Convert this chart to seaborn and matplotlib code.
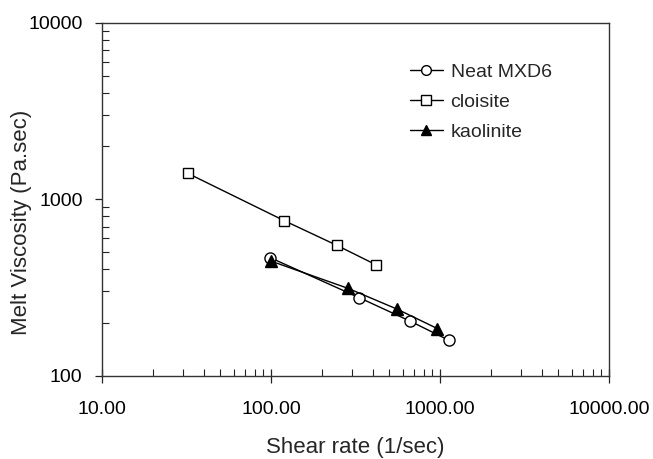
import numpy as np
import pandas as pd
import matplotlib
matplotlib.use("Agg")
import matplotlib.pyplot as plt
from matplotlib.ticker import LogLocator, FixedLocator, FixedFormatter, NullFormatter
import seaborn as sns

# Data
neat_x = [98.6, 332, 664, 1125]
neat_y = [467, 277, 204, 159]
cloisite_x = [32.1, 120, 246, 416]
cloisite_y = [1403, 755, 547, 426]
kaolinite_x = [100, 287, 559, 964]
kaolinite_y = [446, 312, 238, 185]

series_names = ["Neat MXD6", "cloisite", "kaolinite"]
x_ticks = [10, 100, 1000, 10000]
x_tick_labels = ["10.00", "100.00", "1000.00", "10000.00"]
y_ticks = [100, 1000, 10000]
y_tick_labels = ["100", "1000", "10000"]

sns.set_style("ticks")
plt.rcParams["font.family"] = ["Liberation Sans", "DejaVu Sans"]

df = pd.concat([
    pd.DataFrame({"x": neat_x, "y": neat_y, "series": series_names[0]}),
    pd.DataFrame({"x": cloisite_x, "y": cloisite_y, "series": series_names[1]}),
    pd.DataFrame({"x": kaolinite_x, "y": kaolinite_y, "series": series_names[2]}),
])

fig = plt.figure(figsize=(6.53, 4.59), dpi=100)
ax = fig.add_axes([102/653, 1-375.7/459, (609-102)/653, (375.7-22.7)/459])

styles = {
    "Neat MXD6": dict(marker="o", markerfacecolor="white", markersize=8),
    "cloisite": dict(marker="s", markerfacecolor="white", markersize=7.5),
    "kaolinite": dict(marker="^", markerfacecolor="black", markersize=8),
}
for name in series_names:
    sub = df[df["series"] == name]
    sns.lineplot(data=sub, x="x", y="y", ax=ax, color="black", linewidth=1.0,
                 markeredgecolor="black", markeredgewidth=1.0, label=name,
                 sort=False, **styles[name])

ax.set_xscale("log")
ax.set_yscale("log")
ax.set_xlim(10, 10000)
ax.set_ylim(100, 10000)

ax.xaxis.set_major_locator(FixedLocator(x_ticks))
ax.xaxis.set_major_formatter(FixedFormatter(x_tick_labels))
ax.yaxis.set_major_locator(FixedLocator(y_ticks))
ax.yaxis.set_major_formatter(FixedFormatter(y_tick_labels))
ax.xaxis.set_minor_locator(LogLocator(base=10, subs=np.arange(2, 10)))
ax.yaxis.set_minor_locator(LogLocator(base=10, subs=np.arange(2, 10)))
ax.xaxis.set_minor_formatter(NullFormatter())
ax.yaxis.set_minor_formatter(NullFormatter())

ax.tick_params(axis="x", which="major", direction="inout", length=10, width=0.9,
               labelsize=14, pad=13.5, colors="#222222", labelcolor="black")
ax.tick_params(axis="y", which="major", direction="out", length=5, width=0.9,
               labelsize=14, pad=9, colors="#222222", labelcolor="black")
ax.tick_params(axis="both", which="minor", direction="in", length=5, width=0.8,
               colors="#222222")

for s in ax.spines.values():
    s.set_visible(True)
    s.set_linewidth(1.0)
    s.set_color("#333333")

ax.set_xlabel("Shear rate (1/sec)", fontsize=16)
ax.set_ylabel("Melt Viscosity (Pa.sec)", fontsize=16)
ax.xaxis.set_label_coords(0.5, (375.7 - 437) / 353)
ax.yaxis.set_label_coords((32 - 102) / 507, (375.7 - 222) / 353)

leg = ax.legend(loc="upper left", bbox_to_anchor=(0.607, 0.884), frameon=False,
                fontsize=14, handlelength=1.7, handletextpad=0.4,
                labelspacing=0.63, borderpad=0, borderaxespad=0)
for h in leg.legend_handles:
    h.set_markersize(7)

fig.savefig("out.png", dpi=100, facecolor="white")
